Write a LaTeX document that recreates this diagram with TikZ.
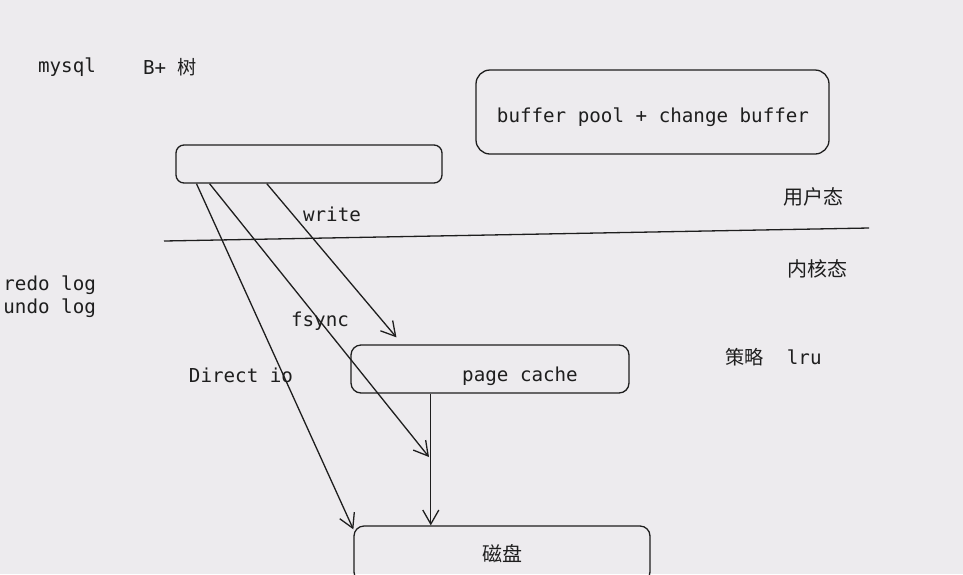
\documentclass[tikz,border=0pt]{standalone}
\usepackage{fontspec}
\setmonofont{DejaVu Sans Mono}
\newfontfamily\cjk{Noto Sans CJK SC}
\usetikzlibrary{arrows.meta,positioning,calc}
\definecolor{skbg}{RGB}{237,235,238}
\definecolor{skink}{RGB}{30,30,30}

\begin{document}
\begin{tikzpicture}[x=0.5pt,y=-0.5pt,
  skbox/.style={draw=skink,line width=0.65pt,inner sep=0pt,rounded corners=5pt},
  sktext/.style={font=\fontsize{9.6}{11.5}\selectfont\ttfamily,text=skink,inner sep=0pt},
  zhtext/.style={font=\fontsize{10}{12}\selectfont\cjk,text=skink,inner sep=0pt},
  skarrow/.style={draw=skink,line width=0.65pt,-{Straight Barb[length=7pt,width=8pt]}}
]
  \useasboundingbox[fill=skbg] (0,0) rectangle (963,574);
  % Boxes
  \node[skbox,rounded corners=4pt,minimum width=133pt,minimum height=19pt] (app) at (309,164) {};
  \node[skbox,rounded corners=7pt,minimum width=176.5pt,minimum height=42pt] (pool) at (652.5,112) {};
  \node[sktext] (poollabel) at (653,117) {buffer pool + change buffer};
  \node[skbox,minimum width=139pt,minimum height=24pt] (pc) at (490,369) {};
  \node[sktext] (pclabel) at (520,376) {page cache};
  \node[skbox,minimum width=148pt,minimum height=28pt,zhtext] (disk) at (502,554) {磁盘};
  % Labels
  \node[sktext] (mysql) at (67,67) {mysql};
  \node[sktext] (btree) at (170,67) {B+ {\cjk 树}};
  \node[sktext,anchor=west,align=left] (logs) at (3,297) {redo log\\undo log};
  \node[sktext] (write) at (332,214) {write};
  \node[sktext] (fsync) at (320,321) {fsync};
  \node[sktext] (direct) at (241,375) {Direct io};
  \node[zhtext] (user) at (813,197) {用户态};
  \node[zhtext] (kernel) at (817,269) {内核态};
  \node[sktext] (policy) at (773.5,357) {{\cjk 策略}\ \ lru};
  % User / kernel divider
  \draw[skink,line width=0.65pt] (164,241) -- (869,228);
  % Connectors
  \coordinate (fsyncend) at (429,457);
  \coordinate (pcout) at ($(pc.south west)!0.288!(pc.south east)$);
  \draw[skarrow] ($(app.south west)!0.342!(app.south east)$) -- ([yshift=3.5pt]$(pc.north west)!0.165!(pc.north east)$);
  \draw[skarrow] ($(app.south west)!0.128!(app.south east)$) -- (fsyncend);
  \draw[skarrow] ($(app.south west)!0.079!(app.south east)$) -- ([yshift=-2pt]disk.north west);
  \draw[skarrow] (pcout) -- (pcout |- disk.north);
\end{tikzpicture}
\end{document}
